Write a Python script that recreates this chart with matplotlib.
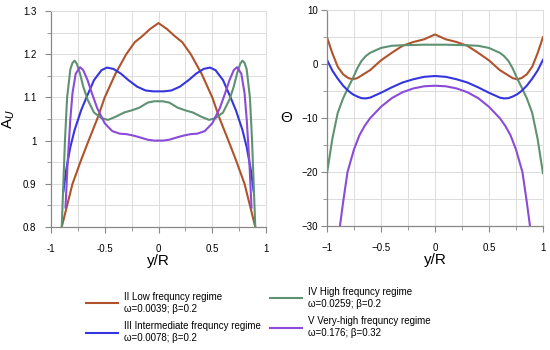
import matplotlib.pyplot as plt
from matplotlib.ticker import MultipleLocator
from matplotlib.lines import Line2D

plt.rcParams['font.family'] = ['Liberation Sans', 'DejaVu Sans']

# amplitude A_U vs y/R
x_red_a = [-0.9, -0.85, -0.8, -0.72, -0.65, -0.57, -0.5, -0.4, -0.3, -0.22, -0.15, -0.08, 0.0,
           0.08, 0.15, 0.22, 0.3, 0.4, 0.5, 0.57, 0.65, 0.72, 0.8, 0.85, 0.9]
a_red = [0.8, 0.85, 0.9, 0.955, 1.0, 1.05, 1.1, 1.155, 1.2, 1.228, 1.242, 1.258, 1.272,
         1.258, 1.242, 1.228, 1.2, 1.155, 1.1, 1.05, 1.0, 0.955, 0.9, 0.85, 0.8]

x_blue_a = [-0.885, -0.86, -0.82, -0.78, -0.72, -0.67, -0.6, -0.53, -0.48, -0.42, -0.35, -0.28, -0.2, -0.12, -0.05, 0.0,
            0.05, 0.12, 0.2, 0.28, 0.35, 0.42, 0.48, 0.53, 0.6, 0.67, 0.72, 0.78, 0.82, 0.86, 0.885]
a_blue = [0.882, 0.93, 0.985, 1.025, 1.07, 1.1, 1.14, 1.163, 1.169, 1.166, 1.155, 1.14, 1.125, 1.116, 1.114, 1.114,
          1.114, 1.116, 1.125, 1.14, 1.155, 1.166, 1.169, 1.163, 1.14, 1.1, 1.07, 1.025, 0.985, 0.93, 0.882]

x_green_a = [-0.9, -0.885, -0.87, -0.85, -0.82, -0.8, -0.78, -0.76, -0.73, -0.7, -0.66, -0.6, -0.53, -0.47, -0.4, -0.32,
             -0.25, -0.18, -0.1, -0.04, 0.0,
             0.04, 0.1, 0.18, 0.25, 0.32, 0.4, 0.47, 0.53, 0.6, 0.66, 0.7, 0.73, 0.76, 0.78, 0.8, 0.82, 0.85, 0.87,
             0.885, 0.9]
a_green = [0.8, 0.9, 1.0, 1.1, 1.165, 1.18, 1.185, 1.178, 1.155, 1.125, 1.095, 1.065, 1.052, 1.048, 1.055, 1.065,
           1.07, 1.076, 1.088, 1.091, 1.091,
           1.091, 1.088, 1.076, 1.07, 1.065, 1.055, 1.048, 1.052, 1.065, 1.095, 1.125, 1.155, 1.178, 1.185, 1.18, 1.165,
           1.1, 1.0, 0.9, 0.8]

x_purple_a = [-0.865, -0.845, -0.82, -0.8, -0.77, -0.73, -0.7, -0.66, -0.62, -0.57, -0.5, -0.43, -0.36, -0.3, -0.24,
              -0.18, -0.1, -0.04, 0.0,
              0.04, 0.1, 0.18, 0.24, 0.3, 0.36, 0.43, 0.5, 0.57, 0.62, 0.66, 0.7, 0.73, 0.77, 0.8, 0.82, 0.845, 0.865]
a_purple = [0.845, 0.95, 1.05, 1.11, 1.155, 1.17, 1.163, 1.14, 1.11, 1.075, 1.04, 1.022, 1.016, 1.015, 1.012,
            1.008, 1.002, 1.0, 1.0,
            1.0, 1.002, 1.008, 1.012, 1.015, 1.016, 1.022, 1.04, 1.075, 1.11, 1.14, 1.163, 1.17, 1.155, 1.11, 1.05,
            0.95, 0.845]

# phase Theta vs y/R
x_theta = [-1.0, -0.95, -0.9, -0.85, -0.8, -0.76, -0.72, -0.68, -0.64, -0.6, -0.5, -0.4, -0.3, -0.2, -0.1, 0.0,
           0.1, 0.2, 0.3, 0.4, 0.5, 0.6, 0.64, 0.68, 0.72, 0.76, 0.8, 0.85, 0.9, 0.95, 1.0]
t_red = [5.0, 2.0, -0.5, -1.9, -2.6, -2.8, -2.6, -2.1, -1.6, -1.1, 0.7, 2.1, 3.4, 4.1, 4.6, 5.5,
         4.6, 4.1, 3.4, 2.1, 0.7, -1.1, -1.6, -2.1, -2.6, -2.8, -2.6, -1.9, -0.5, 2.0, 5.0]
t_green = [-20.2, -13.8, -9.0, -6.3, -4.2, -2.6, -0.8, 0.6, 1.5, 2.1, 3.0, 3.4, 3.5, 3.55, 3.6, 3.6,
           3.6, 3.55, 3.5, 3.4, 3.0, 2.1, 1.5, 0.6, -0.8, -2.6, -4.2, -6.3, -9.0, -13.8, -20.2]
t_blue = [0.8, -1.2, -2.7, -4.0, -5.0, -5.6, -6.0, -6.3, -6.35, -6.2, -5.3, -4.3, -3.4, -2.8, -2.35, -2.2,
          -2.35, -2.8, -3.4, -4.3, -5.3, -6.2, -6.35, -6.3, -6.0, -5.6, -5.0, -4.0, -2.7, -1.2, 0.8]

x_purple_t = [-0.88, -0.85, -0.81, -0.75, -0.7, -0.65, -0.6, -0.5, -0.4, -0.3, -0.2, -0.1, 0.0,
              0.1, 0.2, 0.3, 0.4, 0.5, 0.6, 0.65, 0.7, 0.75, 0.81, 0.85, 0.88]
t_purple = [-30.0, -25.5, -20.0, -15.8, -13.2, -11.4, -10.0, -7.9, -6.3, -5.2, -4.5, -4.1, -4.0,
            -4.1, -4.5, -5.2, -6.3, -7.9, -10.0, -11.4, -13.2, -15.8, -20.0, -25.5, -30.0]

labels = ['II Low frequncy regime\nω=0.0039; β=0.2',
          'III Intermediate frequncy regime\nω=0.0078; β=0.2',
          'IV High frequncy regime\nω=0.0259; β=0.2',
          'V Very-high frequncy regime\nω=0.176; β=0.32']

c_red = '#b0532c'
c_blue = '#3535e0'
c_green = '#5f9272'
c_purple = '#8a4cd8'
lw = 1.5

fig = plt.figure(figsize=(5.5, 3.5), dpi=100)
ax1 = fig.add_axes([0.0927, 0.3514, 0.391, 0.6172])
ax2 = fig.add_axes([0.5945, 0.354, 0.3927, 0.617])


def style(ax, ypad):
    ax.grid(True, which='both', color='#dcdcdc', lw=0.7)
    ax.set_axisbelow(True)
    for s in ['top', 'right']:
        ax.spines[s].set_color('#dcdcdc')
        ax.spines[s].set_linewidth(0.7)
    for s in ['left', 'bottom']:
        ax.spines[s].set_color('#888888')
        ax.spines[s].set_linewidth(0.9)
    ax.tick_params(which='major', direction='out', length=4.5, color='#888888', labelsize=7)
    ax.tick_params(which='minor', direction='out', length=3, color='#888888')
    ax.tick_params(axis='x', which='major', pad=8)
    ax.tick_params(axis='y', which='major', pad=ypad)
    ax.tick_params(top=False, right=False, which='both')
    ax.xaxis.set_minor_locator(MultipleLocator(0.25))
    ax.set_xlim(-1, 1)
    ax.set_xlabel('y/R', fontsize=11, labelpad=0)


ax1.plot(x_red_a, a_red, color=c_red, lw=lw)
ax1.plot(x_blue_a, a_blue, color=c_blue, lw=lw)
ax1.plot(x_green_a, a_green, color=c_green, lw=lw)
ax1.plot(x_purple_a, a_purple, color=c_purple, lw=lw)
style(ax1, 6)
ax1.set_ylim(0.8, 1.3)
ax1.yaxis.set_minor_locator(MultipleLocator(0.05))
ax1.set_xticks([-1, -0.5, 0, 0.5, 1])
ax1.set_xticklabels(['-1', '-0.5', '0', '0.5', '1'])
ax1.set_yticks([0.8, 0.9, 1.0, 1.1, 1.2, 1.3])
ax1.set_yticklabels(['0.8', '0.9', '1', '1.1', '1.2', '1.3'])
ax1.set_ylabel('A$_U$', fontsize=11)
ax1.yaxis.set_label_coords(-0.16, 0.5)

ax2.plot(x_theta, t_red, color=c_red, lw=lw)
ax2.plot(x_theta, t_green, color=c_green, lw=lw)
ax2.plot(x_theta, t_blue, color=c_blue, lw=lw)
ax2.plot(x_purple_t, t_purple, color=c_purple, lw=lw)
style(ax2, 2)
ax2.set_ylim(-30, 10)
ax2.yaxis.set_minor_locator(MultipleLocator(5))
ax2.set_xticks([-1, -0.5, 0, 0.5, 1])
ax2.set_xticklabels(['\u22121', '\u22120.5', '0', '0.5', '1'])
ax2.set_yticks([-30, -20, -10, 0, 10])
ax2.set_yticklabels(['\u221230', '\u221220', '\u221210', '0', '10'])
ax2.set_ylabel('Θ', fontsize=11, rotation=0, va='center', ha='center')
ax2.yaxis.set_label_coords(-0.19, 0.5)

h = [Line2D([], [], color=c, lw=lw) for c in [c_red, c_blue, c_green, c_purple]]
kw = dict(frameon=False, fontsize=7, handlelength=3.3, handletextpad=0.6,
          labelspacing=0.8, borderpad=0, borderaxespad=0, loc='upper left')
fig.legend(h[:2], labels[:2], bbox_to_anchor=(86 / 550, 1 - 292 / 350), **kw)
fig.legend(h[2:], labels[2:], bbox_to_anchor=(270 / 550, 1 - 287 / 350), **kw)

fig.savefig('out.png', dpi=100)
